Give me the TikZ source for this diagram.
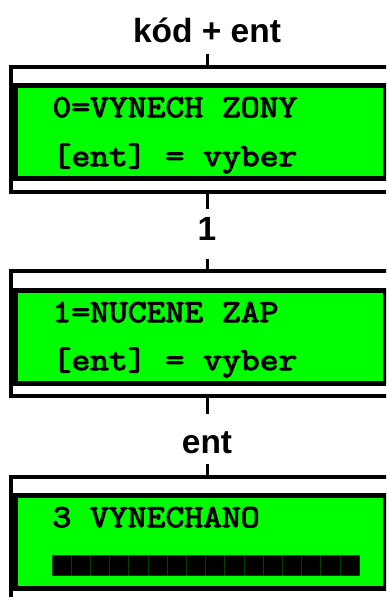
\documentclass[tikz,border=0pt]{standalone}
\usepackage{fontspec}
\usepackage{tikz}
\newfontfamily\keyfont{Liberation Sans}
\newfontfamily\lcdfont{Latin Modern Mono}[FakeStretch=1.143, FakeBold=3.5]
\definecolor{lcdgreen}{RGB}{0,255,0}
\tikzstyle{frame} = [draw, rectangle, line width=4pt, minimum width=379pt, minimum height=125.5pt]
\tikzstyle{display} = [draw, rectangle, fill=lcdgreen, line width=5pt, minimum width=370pt, minimum height=93pt]
\tikzstyle{lcdline} = [anchor=base west, inner sep=0pt, font=\lcdfont\fontsize{32}{32}\selectfont]
\tikzstyle{keys} = [anchor=base, inner sep=0pt, font=\keyfont\bfseries\fontsize{33.5}{33.5}\selectfont]
\tikzstyle{cell} = [fill=black, draw=lcdgreen!25!black, line width=0.6pt, minimum width=19.19pt, minimum height=20pt, inner sep=0pt]

\begin{document}
\begin{tikzpicture}[x=1pt, y=-1pt, line width=3pt]
    \useasboundingbox (0,0) rectangle (386,597);
    \clip (0,0) rectangle (386,597);

    \node [frame] (frame1) at (200.5,129.25) {};
    \node [display] (lcd1) at (200.5,131.5) {};
    \node [frame] (frame2) at (200.5,333.25) {};
    \node [display] (lcd2) at (200.5,337) {};
    \node [frame] (frame3) at (200.5,539.75) {};
    \node [display] (lcd3) at (200.5,542) {};

    \node [keys, text depth=10pt] (code) at (207,42) {kód + ent};
    \node [keys, text height=30pt, text depth=17pt] (one) at (207,240) {1};
    \node [keys, text height=38pt, text depth=9pt] (enter) at (207,453) {ent};

    \node [lcdline] (menu0) at (51,117) {0=VYNECH ZONY};
    \node [lcdline] (select0) at (51,166) {[ent] = vyber};
    \node [lcdline] (menu1) at (51,322) {1=NUCENE ZAP};
    \node [lcdline] (select1) at (51,370) {[ent] = vyber};
    \node [lcdline] (bypassed) at (51,527) {3 VYNECHANO};
    \foreach \i in {0,...,15}
        \node [cell] (cell\i) at (61.6+19.19*\i,565) {};

    \draw (code) -- (code |- frame1.north);
    \draw (frame1.south -| one) -- (one);
    \draw (one) -- (one |- frame2.north);
    \draw (frame2.south -| enter) -- (enter);
    \draw (enter) -- (enter |- frame3.north);
\end{tikzpicture}
\end{document}
